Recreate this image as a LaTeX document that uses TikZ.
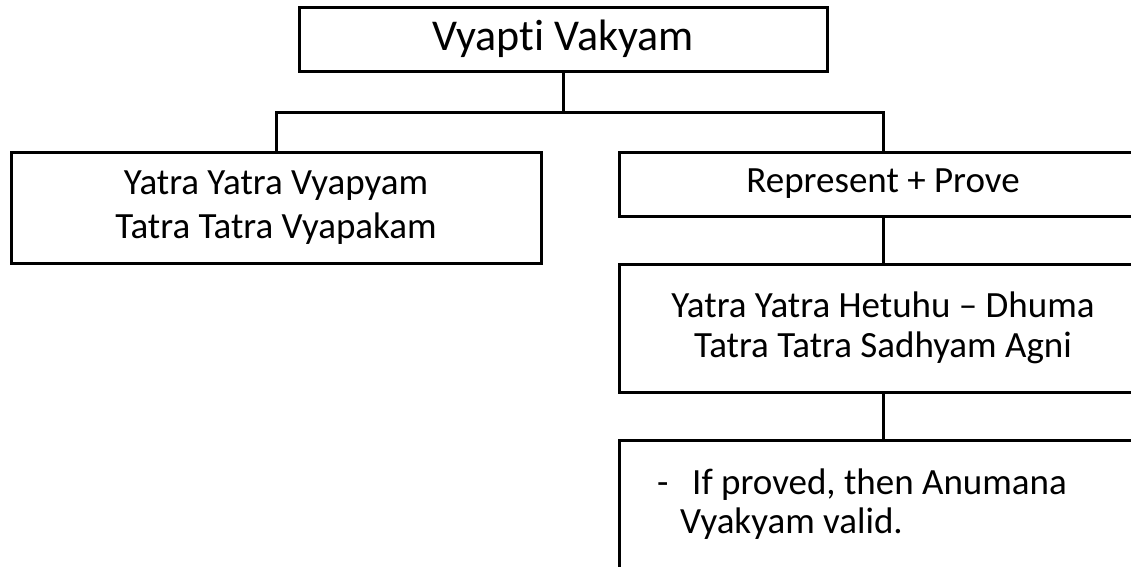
\documentclass[tikz,border=0pt]{standalone}
\usepackage{fontspec}
\setmainfont{Carlito}[Ligatures=NoCommon]
\begin{document}
\begin{tikzpicture}[x=1pt,y=-1pt,
  box/.style={draw=black,line width=3pt,rectangle,inner sep=0pt,align=center,
    font=\fontsize{37}{44}\selectfont},
  conn/.style={draw=black,line width=3pt},
  txt/.style={inner sep=0pt,anchor=base west,font=\fontsize{37}{44}\selectfont}]
\useasboundingbox (0,0) rectangle (1131,566);
\fill[white] (0,0) rectangle (1131,566);
\clip (0,0) rectangle (1131,566);
\node[box,minimum width=528pt,minimum height=64pt,font=\fontsize{44}{50}\selectfont] (top) at (563,39) {Vyapti Vakyam};
\node[box,minimum width=530pt,minimum height=111pt] (left) at (276,207.5) {Yatra Yatra Vyapyam\\Tatra Tatra Vyapakam};
\node[box,minimum width=528pt,minimum height=64pt] (rp) at (883,184) {Represent + Prove};
\node[box,minimum width=528pt,minimum height=128pt,font=\fontsize{37}{40}\selectfont] (het) at (883,328) {Yatra Yatra Hetuhu – Dhuma\\Tatra Tatra Sadhyam Agni};
\node[box,minimum width=528pt,minimum height=170pt] (res) at (883,525) {};
\node[txt] (dash) at (657,494) {-};
\node[txt] (l1) at (692,494) {If proved, then Anumana};
\node[txt] (l2) at (680,533) {Vyakyam valid.};
\coordinate (bus) at (563,112);
\draw[conn] (top.south) -- (top.south |- bus);
\draw[conn] (left.north) -- (left.north |- bus) -- (rp.north |- bus) -- (rp.north);
\draw[conn] (rp.south) -- (het.north);
\draw[conn] (het.south) -- (res.north);
\end{tikzpicture}
\end{document}
